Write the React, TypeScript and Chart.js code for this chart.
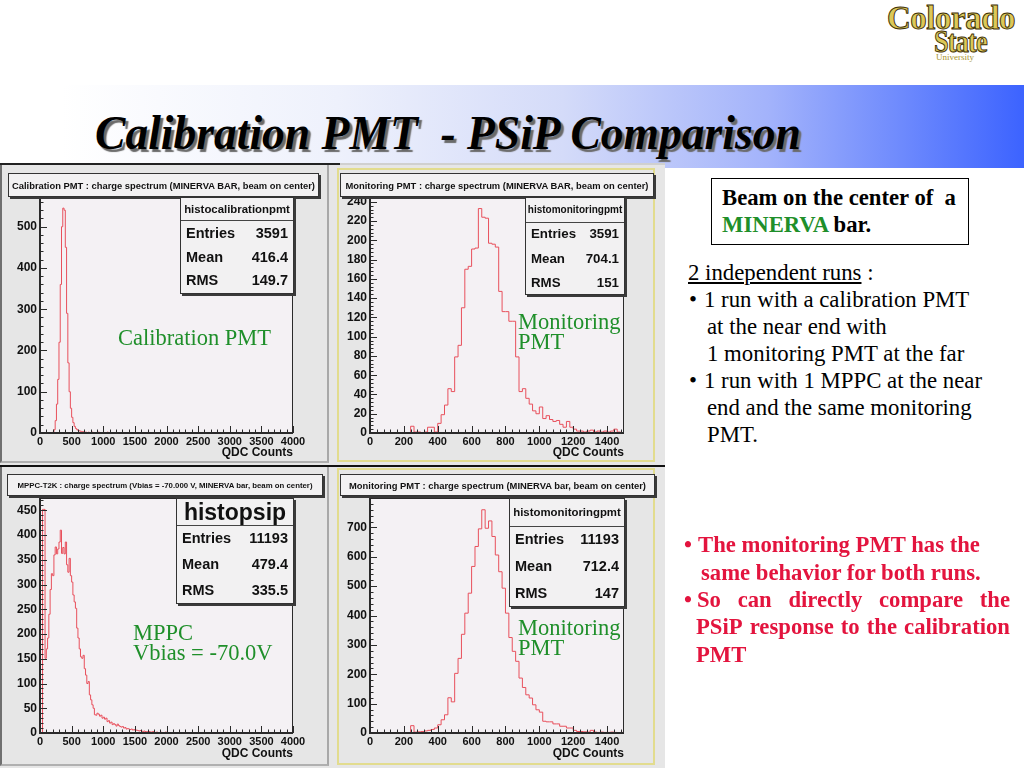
import { useEffect, useRef } from "react";
import { Chart, registerables } from "chart.js";

Chart.register(...registerables);

// ---------------- DATA ----------------
const BIN_WIDTH = 20;
const STAT_NAMES = ["Entries", "Mean", "RMS"];

// Panel 1: Calibration PMT
const CALIB_TITLE = "Calibration PMT : charge spectrum (MINERVA BAR, beam on center)";
const CALIB_HIST_NAME = "histocalibrationpmt";
const CALIB_STATS = ["3591", "416.4", "149.7"];
const CALIB_LABEL = ["Calibration PMT"];
const CALIB_FIRST_BIN = 200;
const CALIB_COUNTS = [
  2, 8, 30, 70, 130, 220, 360, 500, 545, 540, 450, 290, 170, 100, 60, 38, 25, 16, 11, 8,
  6, 5, 4, 3, 3, 2, 2, 1, 2, 1, 1, 2, 1, 0, 1, 1, 2, 1, 0, 1, 1, 1, 0, 2, 1, 0, 1, 1, 0, 1,
  0, 1, 1, 0, 1, 0, 1, 0, 1, 1, 0, 0, 1, 0, 1, 0, 0, 1, 0, 0, 1, 0, 1, 0, 0, 1,
];
const CALIB_X_MAX = 4000;
const CALIB_Y_MAX = 572;
const CALIB_X_TICKS = [0, 500, 1000, 1500, 2000, 2500, 3000, 3500, 4000];
const CALIB_Y_TICKS = [0, 100, 200, 300, 400, 500];

// Panel 2: Monitoring PMT (run 1)
const MON1_TITLE = "Monitoring PMT : charge spectrum (MINERVA BAR, beam on center)";
const MON1_HIST_NAME = "histomonitoringpmt";
const MON1_STATS = ["3591", "704.1", "151"];
const MON1_LABEL = ["Monitoring", "PMT"];
const MON1_FIRST_BIN = 240;
const MON1_COUNTS = [
  7, 1, 1, 0, 1, 6, 6, 1, 10, 19, 29, 46, 43, 79, 91, 130, 170, 173, 191, 192,
  233, 224, 223, 197, 196, 193, 147, 126, 126, 116, 116, 79, 43, 46, 36, 30, 23, 20, 27, 15,
  18, 14, 12, 13, 9, 6, 12, 6, 4, 2, 2, 1, 2, 3, 1, 2, 1, 2, 1, 2, 4, 1,
];
const MON1_X_MAX = 1500;
const MON1_Y_MAX = 245;
const MON1_X_TICKS = [0, 200, 400, 600, 800, 1000, 1200, 1400];
const MON1_Y_TICKS = [0, 20, 40, 60, 80, 100, 120, 140, 160, 180, 200, 220, 240];

// Panel 3: MPPC
const MPPC_TITLE = "MPPC-T2K : charge spectrum (Vbias = -70.000 V, MINERVA bar, beam on center)";
const MPPC_HIST_NAME = "histopsip";
const MPPC_STATS = ["11193", "479.4", "335.5"];
const MPPC_LABEL = ["MPPC", "Vbias = -70.0V"];
const MPPC_FIRST_BIN = 0;
const MPPC_COUNTS = [
  0, 0, 452, 452, 151, 170, 192, 240, 290, 322, 318, 360, 376, 362, 372, 386, 410, 363, 375, 362,
  386, 340, 325, 353, 318, 305, 279, 265, 252, 212, 192, 170, 154, 151, 157, 130, 117, 100, 104, 77,
  67, 57, 50, 37, 36, 40, 38, 34, 36, 30, 32, 28, 30, 23, 25, 20, 22, 17, 19, 17,
  14, 18, 15, 13, 12, 13, 10, 11, 8, 9, 8, 7, 8, 6, 7, 5, 6, 5, 4, 5,
  4, 3, 4, 3, 3, 2, 3, 2, 2, 3, 2, 1, 2, 1, 1, 2, 1, 1, 1, 2,
  0, 1, 1, 0, 1, 0, 1, 0, 1, 0, 1,
];
const MPPC_X_MAX = 4000;
const MPPC_Y_MAX = 475;
const MPPC_X_TICKS = [0, 500, 1000, 1500, 2000, 2500, 3000, 3500, 4000];
const MPPC_Y_TICKS = [0, 50, 100, 150, 200, 250, 300, 350, 400, 450];

// Panel 4: Monitoring PMT (run 2)
const MON2_TITLE = "Monitoring PMT : charge spectrum (MINERVA bar, beam on center)";
const MON2_HIST_NAME = "histomonitoringpmt";
const MON2_STATS = ["11193", "712.4", "147"];
const MON2_LABEL = ["Monitoring", "PMT"];
const MON2_FIRST_BIN = 240;
const MON2_COUNTS = [
  25, 3, 4, 5, 7, 9, 12, 17, 28, 45, 62, 120, 106, 203, 254, 336, 408, 476, 567, 635,
  695, 760, 697, 722, 669, 606, 549, 493, 408, 325, 278, 244, 187, 155, 130, 119, 96, 79, 71, 40,
  38, 38, 31, 31, 23, 23, 17, 17, 9, 5, 5, 4, 3, 9, 3, 2, 3, 2, 2, 3, 2, 1, 2,
];
const MON2_X_MAX = 1500;
const MON2_Y_MAX = 800;
const MON2_X_TICKS = [0, 200, 400, 600, 800, 1000, 1200, 1400];
const MON2_Y_TICKS = [0, 100, 200, 300, 400, 500, 600, 700];

const X_AXIS_TITLE = "QDC Counts";
const SLIDE_TITLE = "Calibration PMT  - PSiP Comparison";

// ---------------- STYLE ----------------
const SANS = '"Liberation Sans", Arial, sans-serif';
const SERIF = '"Liberation Serif", "Times New Roman", serif';
const LINE_RED = "#e8505c";
const FRAME_BG = "#f4f1f4";
const PANEL_BG = "#e6e6e6";
const BOX_BG = "#f2f1f2";
const AXIS_COLOR = "#2a2a2a";
const GREEN = "#1f8f2a";
const RED_TEXT = "#e3143e";

type Area = { left: number; top: number; right: number; bottom: number };

const rootFrame = {
  id: "rootFrame",
  beforeDatasetsDraw(chart: any) {
    const { ctx, chartArea: a } = chart;
    ctx.save();
    ctx.fillStyle = FRAME_BG;
    ctx.fillRect(a.left, a.top, a.right - a.left, a.bottom - a.top);
    ctx.restore();
  },
  afterDatasetsDraw(chart: any) {
    const { ctx, chartArea: a, scales } = chart;
    const o = chart.options.plugins.rootFrame;
    const xs = scales.x;
    const ys = scales.y;
    const L = Math.round(a.left);
    const R = Math.round(a.right);
    const T = Math.round(a.top);
    const B = Math.round(a.bottom);
    ctx.save();
    ctx.fillStyle = AXIS_COLOR;
    ctx.fillRect(L, T, R - L, 1);
    ctx.fillRect(R - 1, T, 1, B - T);
    ctx.fillRect(L - 1, B - 1, R - L + 1, 2);
    ctx.fillRect(L - 1, T, 2, B - T + 1);
    ctx.strokeStyle = AXIS_COLOR;
    ctx.lineWidth = 1;
    ctx.beginPath();
    const xMaj = o.xTicks[1] - o.xTicks[0];
    const xMin = xMaj / 5;
    for (let i = 0; i * xMin <= xs.max + 1e-6; i++) {
      const px = Math.round(xs.getPixelForValue(i * xMin)) + 0.5;
      const len = i % 5 === 0 ? 7 : 3.5;
      ctx.moveTo(px, B);
      ctx.lineTo(px, B - len);
    }
    const yMaj = o.yTicks[1] - o.yTicks[0];
    const yMin = yMaj / 5;
    for (let i = 0; i * yMin <= ys.max + 1e-6; i++) {
      const py = Math.round(ys.getPixelForValue(i * yMin)) + 0.5;
      const len = i % 5 === 0 ? 7 : 3.5;
      ctx.moveTo(L, py);
      ctx.lineTo(L + len, py);
    }
    ctx.stroke();
    ctx.restore();
  },
};

type HistProps = {
  w: number;
  h: number;
  area: Area;
  firstBin: number;
  counts: number[];
  xMax: number;
  yMax: number;
  xTicks: number[];
  yTicks: number[];
};

function HistChart(p: HistProps) {
  const ref = useRef<HTMLCanvasElement>(null);
  useEffect(() => {
    if (!ref.current) return;
    // each point is a bin's low edge; its value holds until the next point
    const pts: { x: number; y: number }[] = [{ x: 0, y: 0 }];
    p.counts.forEach((c, i) => pts.push({ x: p.firstBin + i * BIN_WIDTH, y: c }));
    const end = p.firstBin + p.counts.length * BIN_WIDTH;
    pts.push({ x: end, y: 0 });
    pts.push({ x: p.xMax, y: 0 });
    const chart = new Chart(ref.current, {
      type: "line",
      data: {
        datasets: [
          {
            data: pts,
            stepped: "before",
            borderColor: LINE_RED,
            borderWidth: 1,
            pointRadius: 0,
            fill: false,
          } as any,
        ],
      },
      options: {
        animation: false,
        responsive: false,
        maintainAspectRatio: false,
        events: [],
        layout: {
          padding: { left: 0, top: p.area.top, right: p.w - p.area.right, bottom: 0 },
        },
        plugins: {
          legend: { display: false },
          tooltip: { enabled: false },
          title: { display: false },
          rootFrame: { xTicks: p.xTicks, yTicks: p.yTicks },
        } as any,
        scales: {
          x: {
            type: "linear",
            min: 0,
            max: p.xMax,
            afterBuildTicks: (s: any) => {
              s.ticks = p.xTicks.map((v) => ({ value: v }));
            },
            afterFit: (s: any) => {
              s.height = p.h - p.area.bottom;
            },
            ticks: {
              autoSkip: false,
              maxRotation: 0,
              padding: 2,
              color: "#111",
              font: { family: '"Liberation Sans"', weight: "bold", size: 11 },
              callback: (v: any) => String(v),
            },
            grid: { display: false, drawTicks: false },
            border: { display: false },
          },
          y: {
            type: "linear",
            min: 0,
            max: p.yMax,
            afterBuildTicks: (s: any) => {
              s.ticks = p.yTicks.map((v) => ({ value: v }));
            },
            afterFit: (s: any) => {
              s.width = p.area.left;
            },
            ticks: {
              autoSkip: false,
              padding: 3,
              color: "#111",
              font: { family: '"Liberation Sans"', weight: "bold", size: 12 },
              callback: (v: any) => String(v),
            },
            grid: { display: false, drawTicks: false },
            border: { display: false },
          },
        },
      } as any,
      plugins: [rootFrame as any],
    });
    return () => chart.destroy();
  }, []);
  return (
    <canvas
      ref={ref}
      width={p.w}
      height={p.h}
      style={{ position: "absolute", left: 0, top: 0, width: p.w, height: p.h }}
    />
  );
}

type PanelCfg = {
  left: number;
  top: number;
  w: number;
  h: number;
  yellow: boolean;
  area: Area;
  title: string;
  titleBox: [number, number, number, number];
  titleFont: number;
  titleTextW: number;
  histName: string;
  statsBox: [number, number, number, number];
  headH: number;
  headFont: number;
  rowFont: number;
  rowCenters: number[];
  stats: string[];
  label: string[];
  labelLeft: number;
  labelTop: number;
  xTitleY: number;
  hist: Omit<HistProps, "w" | "h" | "area">;
};

function Panel({ c }: { c: PanelCfg }) {
  const [tx, ty, tw, th] = c.titleBox;
  const [sx, sy, sw, sh] = c.statsBox;
  return (
    <div
      style={{
        position: "absolute",
        left: c.left,
        top: c.top,
        width: c.w,
        height: c.h,
        background: PANEL_BG,
        overflow: "hidden",
      }}
    >
      {c.yellow ? (
        <div
          style={{
            position: "absolute",
            left: 4,
            top: 3,
            width: c.w - 14,
            height: c.h - 6,
            border: "2px solid #e2dc8e",
            boxSizing: "border-box",
          }}
        />
      ) : (
        <div
          style={{
            position: "absolute",
            left: 0,
            top: 0,
            width: c.w - 4,
            height: c.h - 2,
            borderRight: "2px solid #a8a8a8",
            borderBottom: "2px solid #b0b0b0",
            borderLeft: "2px solid #707070",
            boxSizing: "border-box",
          }}
        />
      )}
      <HistChart w={c.w} h={c.h} area={c.area} {...c.hist} />
      {/* title pave */}
      <div
        style={{
          position: "absolute",
          left: tx,
          top: ty,
          width: tw,
          height: th,
          background: BOX_BG,
          border: "1px solid #333",
          boxShadow: "2px 2px 0 #3a3a3a",
          boxSizing: "border-box",
        }}
      >
        <svg width={tw - 2} height={th - 2} style={{ display: "block" }}>
          <text
            x={(tw - 2) / 2}
            y={(th - 2) / 2 + 0.5}
            textAnchor="middle"
            dominantBaseline="central"
            fontFamily={SANS}
            fontWeight="bold"
            fontSize={c.titleFont}
            textLength={c.titleTextW}
            lengthAdjust="spacingAndGlyphs"
            fill="#111"
          >
            {c.title}
          </text>
        </svg>
      </div>
      {/* stats box */}
      <div
        style={{
          position: "absolute",
          left: sx,
          top: sy,
          width: sw,
          height: sh,
          background: BOX_BG,
          border: "1px solid #333",
          boxShadow: "2px 2px 0 #3a3a3a",
          boxSizing: "border-box",
          fontFamily: SANS,
          fontWeight: "bold",
          color: "#111",
        }}
      >
        <div
          style={{
            position: "absolute",
            left: 0,
            top: 0,
            width: "100%",
            height: c.headH,
            borderBottom: "1px solid #444",
            boxSizing: "border-box",
            textAlign: "center",
            lineHeight: c.headH - 1 + "px",
            fontSize: c.headFont,
          }}
        >
          {c.histName}
        </div>
        {STAT_NAMES.map((n, i) => (
          <div
            key={n}
            style={{
              position: "absolute",
              left: 5,
              right: 5,
              top: c.rowCenters[i] - 10,
              height: 20,
              lineHeight: "20px",
              fontSize: c.rowFont,
              display: "flex",
              justifyContent: "space-between",
            }}
          >
            <span>{n}</span>
            <span>{c.stats[i]}</span>
          </div>
        ))}
      </div>
      {/* x axis title */}
      <div
        style={{
          position: "absolute",
          right: c.w - c.area.right,
          top: c.xTitleY - 8,
          height: 16,
          lineHeight: "16px",
          fontFamily: SANS,
          fontWeight: "bold",
          fontSize: 12,
          color: "#111",
          whiteSpace: "nowrap",
        }}
      >
        {X_AXIS_TITLE}
      </div>
      {/* green annotation */}
      <div
        style={{
          position: "absolute",
          left: c.labelLeft,
          top: c.labelTop - 10,
          fontFamily: SERIF,
          fontSize: 22.5,
          lineHeight: "20px",
          color: GREEN,
          whiteSpace: "nowrap",
        }}
      >
        {c.label.map((l) => (
          <div key={l}>{l}</div>
        ))}
      </div>
    </div>
  );
}

const PANELS: PanelCfg[] = [
  {
    left: 0,
    top: 165,
    w: 333,
    h: 300,
    yellow: false,
    area: { left: 40, top: 32, right: 293, bottom: 268 },
    title: CALIB_TITLE,
    titleBox: [8, 8, 311, 24],
    titleFont: 9,
    titleTextW: 303,
    histName: CALIB_HIST_NAME,
    statsBox: [180, 32, 114, 97],
    headH: 23,
    headFont: 11.4,
    rowFont: 14.5,
    rowCenters: [35, 58.5, 82],
    stats: CALIB_STATS,
    label: CALIB_LABEL,
    labelLeft: 118,
    labelTop: 173,
    xTitleY: 287,
    hist: {
      firstBin: CALIB_FIRST_BIN,
      counts: CALIB_COUNTS,
      xMax: CALIB_X_MAX,
      yMax: CALIB_Y_MAX,
      xTicks: CALIB_X_TICKS,
      yTicks: CALIB_Y_TICKS,
    },
  },
  {
    left: 333,
    top: 165,
    w: 332,
    h: 300,
    yellow: true,
    area: { left: 37, top: 32, right: 291, bottom: 268 },
    title: MON1_TITLE,
    titleBox: [7, 8, 314, 24],
    titleFont: 9,
    titleTextW: 303,
    histName: MON1_HIST_NAME,
    statsBox: [192, 32, 100, 98],
    headH: 25,
    headFont: 10,
    rowFont: 13.3,
    rowCenters: [36, 60.5, 85],
    stats: MON1_STATS,
    label: MON1_LABEL,
    labelLeft: 185,
    labelTop: 157,
    xTitleY: 287,
    hist: {
      firstBin: MON1_FIRST_BIN,
      counts: MON1_COUNTS,
      xMax: MON1_X_MAX,
      yMax: MON1_Y_MAX,
      xTicks: MON1_X_TICKS,
      yTicks: MON1_Y_TICKS,
    },
  },
  {
    left: 0,
    top: 465,
    w: 333,
    h: 303,
    yellow: false,
    area: { left: 40, top: 33, right: 293, bottom: 268 },
    title: MPPC_TITLE,
    titleBox: [7, 9, 316, 22],
    titleFont: 8,
    titleTextW: 295,
    histName: MPPC_HIST_NAME,
    statsBox: [176, 33, 118, 106],
    headH: 27,
    headFont: 23,
    rowFont: 14.5,
    rowCenters: [39, 65, 91],
    stats: MPPC_STATS,
    label: MPPC_LABEL,
    labelLeft: 133,
    labelTop: 168,
    xTitleY: 288,
    hist: {
      firstBin: MPPC_FIRST_BIN,
      counts: MPPC_COUNTS,
      xMax: MPPC_X_MAX,
      yMax: MPPC_Y_MAX,
      xTicks: MPPC_X_TICKS,
      yTicks: MPPC_Y_TICKS,
    },
  },
  {
    left: 333,
    top: 465,
    w: 332,
    h: 303,
    yellow: true,
    area: { left: 37, top: 33, right: 291, bottom: 268 },
    title: MON2_TITLE,
    titleBox: [7, 9, 315, 22],
    titleFont: 9,
    titleTextW: 297,
    histName: MON2_HIST_NAME,
    statsBox: [176, 33, 116, 109],
    headH: 28,
    headFont: 11.4,
    rowFont: 14.5,
    rowCenters: [40, 67, 94],
    stats: MON2_STATS,
    label: MON2_LABEL,
    labelLeft: 185,
    labelTop: 163,
    xTitleY: 288,
    hist: {
      firstBin: MON2_FIRST_BIN,
      counts: MON2_COUNTS,
      xMax: MON2_X_MAX,
      yMax: MON2_Y_MAX,
      xTicks: MON2_X_TICKS,
      yTicks: MON2_Y_TICKS,
    },
  },
];

function Line({
  left,
  cy,
  children,
  style,
}: {
  left: number;
  cy: number;
  children: any;
  style?: any;
}) {
  return (
    <div
      style={{
        position: "absolute",
        left,
        top: cy - 13,
        height: 26,
        lineHeight: "26px",
        whiteSpace: "pre",
        ...style,
      }}
    >
      {children}
    </div>
  );
}

export default function App() {
  const body = { fontFamily: SERIF, fontSize: 22.8, color: "#000" };
  const red = { fontFamily: SERIF, fontSize: 22.7, fontWeight: "bold", color: RED_TEXT };
  const boxText = { fontFamily: SERIF, fontSize: 22.7, fontWeight: "bold" };
  return (
    <div
      style={{
        position: "fixed",
        left: 0,
        top: 0,
        width: 1024,
        height: 768,
        background: "#ffffff",
        overflow: "hidden",
      }}
    >
      {/* logo */}
      <div
        style={{
          position: "absolute",
          left: 887,
          top: 1,
          fontFamily: SERIF,
          fontWeight: "bold",
          fontSize: 34,
          color: "#dcc858",
          WebkitTextStroke: "1px #3e3006",
          transform: "scaleX(0.97)",
          transformOrigin: "left top",
          lineHeight: "34px",
          letterSpacing: -0.5,
        }}
      >
        Colorado
      </div>
      <div
        style={{
          position: "absolute",
          left: 934,
          top: 26,
          fontFamily: SERIF,
          fontWeight: "bold",
          fontSize: 31,
          color: "#dcc858",
          WebkitTextStroke: "1px #3e3006",
          transform: "scaleX(0.85)",
          transformOrigin: "left top",
          lineHeight: "32px",
          letterSpacing: -1,
        }}
      >
        State
      </div>
      <div
        style={{
          position: "absolute",
          left: 936,
          top: 52,
          fontFamily: SERIF,
          fontSize: 9,
          color: "#a89430",
          lineHeight: "10px",
        }}
      >
        University
      </div>

      {/* title band */}
      <div
        style={{
          position: "absolute",
          left: 0,
          top: 85,
          width: 1024,
          height: 83,
          background:
            "linear-gradient(to right, #ffffff 0%, #ffffff 6%, #eef1fc 33%, #d4dbf9 55%, #a3b3fb 75%, #6e8afd 88%, #3c63ff 100%)",
        }}
      />
      <div
        style={{
          position: "absolute",
          left: 95,
          top: 109,
          fontFamily: SERIF,
          fontWeight: "bold",
          fontStyle: "italic",
          fontSize: 48,
          lineHeight: "48px",
          whiteSpace: "pre",
          color: "#000",
          textShadow: "3px 3px 1px #6a6a6a",
          transform: "scaleX(0.949)",
          transformOrigin: "left top",
        }}
      >
        {SLIDE_TITLE}
      </div>

      {/* plot group */}
      <div
        style={{
          position: "absolute",
          left: 0,
          top: 163,
          width: 665,
          height: 605,
          background: "#d0d0d0",
        }}
      />
      {PANELS.map((c, i) => (
        <Panel key={i} c={c} />
      ))}
      <div style={{ position: "absolute", left: 0, top: 163, width: 340, height: 2, background: "#222" }} />
      <div style={{ position: "absolute", left: 0, top: 465, width: 665, height: 2, background: "#111" }} />

      {/* right side box */}
      <div
        style={{
          position: "absolute",
          left: 711,
          top: 178,
          width: 258,
          height: 67,
          border: "1px solid #000",
          boxSizing: "border-box",
        }}
      />
      <Line left={722} cy={198} style={boxText}>
        {"Beam on the center of  a"}
      </Line>
      <Line left={722} cy={225} style={boxText}>
        <span style={{ color: GREEN }}>MINERVA</span>
        {" bar."}
      </Line>

      <Line left={688} cy={273} style={body}>
        <span style={{ textDecoration: "underline" }}>2 independent runs</span>
        {" :"}
      </Line>
      <Line left={689} cy={300} style={body}>
        {"•"}
      </Line>
      <Line left={704} cy={300} style={body}>
        {"1 run with a calibration PMT"}
      </Line>
      <Line left={707} cy={327} style={body}>
        {"at the near end with"}
      </Line>
      <Line left={707} cy={354} style={body}>
        {"1 monitoring PMT at the far"}
      </Line>
      <Line left={689} cy={381} style={body}>
        {"•"}
      </Line>
      <Line left={704} cy={381} style={body}>
        {"1 run with 1 MPPC at the near"}
      </Line>
      <Line left={707} cy={408} style={body}>
        {"end and the same monitoring"}
      </Line>
      <Line left={707} cy={435} style={body}>
        {"PMT."}
      </Line>

      {/* red bullets */}
      <Line left={684} cy={545} style={red}>
        {"•"}
      </Line>
      <Line left={698} cy={545} style={red}>
        {"The monitoring PMT has the"}
      </Line>
      <Line left={701} cy={573} style={red}>
        {"same behavior for both runs."}
      </Line>
      <Line left={684} cy={600} style={red}>
        {"•"}
      </Line>
      <Line left={697} cy={600} style={{ ...red, width: 313, display: "flex", justifyContent: "space-between", whiteSpace: "nowrap" }}>
        {["So", "can", "directly", "compare", "the"].map((w) => (
          <span key={w}>{w}</span>
        ))}
      </Line>
      <Line left={696} cy={627} style={{ ...red, width: 314, display: "flex", justifyContent: "space-between", whiteSpace: "nowrap" }}>
        {["PSiP", "response", "to", "the", "calibration"].map((w) => (
          <span key={w}>{w}</span>
        ))}
      </Line>
      <Line left={696} cy={655} style={red}>
        {"PMT"}
      </Line>
    </div>
  );
}
